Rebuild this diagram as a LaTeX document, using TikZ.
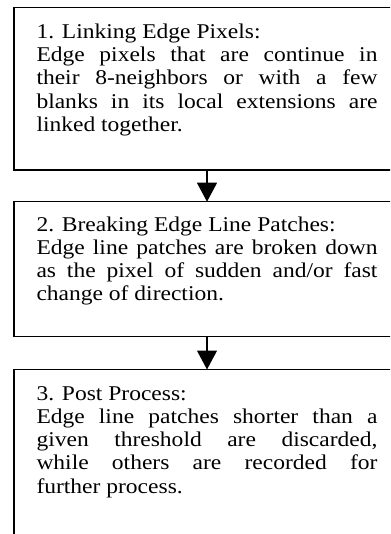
\documentclass[tikz,border=0pt]{standalone}
\usepackage{fontspec}
\setmainfont{Liberation Serif}
\newfontfamily\stepfont[FakeStretch=1.12]{Liberation Serif}
\usetikzlibrary{arrows.meta}
\newlength{\tw}
\setlength{\tw}{341pt}
\newcommand{\jl}[1]{\hbox to \tw{#1}}
\newcommand{\nl}[1]{\hbox{#1}}
\tikzset{
  stepbox/.style={draw=black, line width=1.2pt, rectangle, outer sep=0pt, inner sep=0pt, minimum width=386pt, anchor=north west},
  steptext/.style={anchor=base west, inner sep=0pt, outer sep=0pt, font=\stepfont\fontsize{21}{23.3}\selectfont},
  flow/.style={line width=1.2pt, -{Triangle[width=20pt,length=19pt]}}
}
\begin{document}
\begin{tikzpicture}[x=1pt,y=1pt]
\useasboundingbox (0,0) rectangle (390,-534);
\clip (0,0) rectangle (390,-534);
\node[stepbox, minimum height=162.7pt] (b1) at (14,-7.3) {};
\node[stepbox, minimum height=135pt] (b2) at (14,-201.7) {};
\node[stepbox, minimum height=180pt] (b3) at (14,-369.5) {};
\node[steptext] (t1) at (36.5,-38.3) {\vtop{\baselineskip=23.3pt
  \nl{1. Linking Edge Pixels:}
  \jl{Edge pixels that are continue in}
  \jl{their 8-neighbors or with a few}
  \jl{blanks in its local extensions are}
  \nl{linked together.}}};
\node[steptext] (t2) at (36.5,-231) {\vtop{\baselineskip=23.3pt
  \nl{2. Breaking Edge Line Patches:}
  \jl{Edge line patches are broken down}
  \jl{as the pixel of sudden and/or fast}
  \nl{change of direction.}}};
\node[steptext] (t3) at (36.5,-400) {\vtop{\baselineskip=23.3pt
  \nl{3. Post Process:}
  \jl{Edge line patches shorter than a}
  \jl{given threshold are discarded,}
  \jl{while others are recorded for}
  \nl{further process.}}};
\draw[flow] (b1.south) -- (b2.north);
\draw[flow] (b2.south) -- (b3.north);
\end{tikzpicture}
\end{document}
